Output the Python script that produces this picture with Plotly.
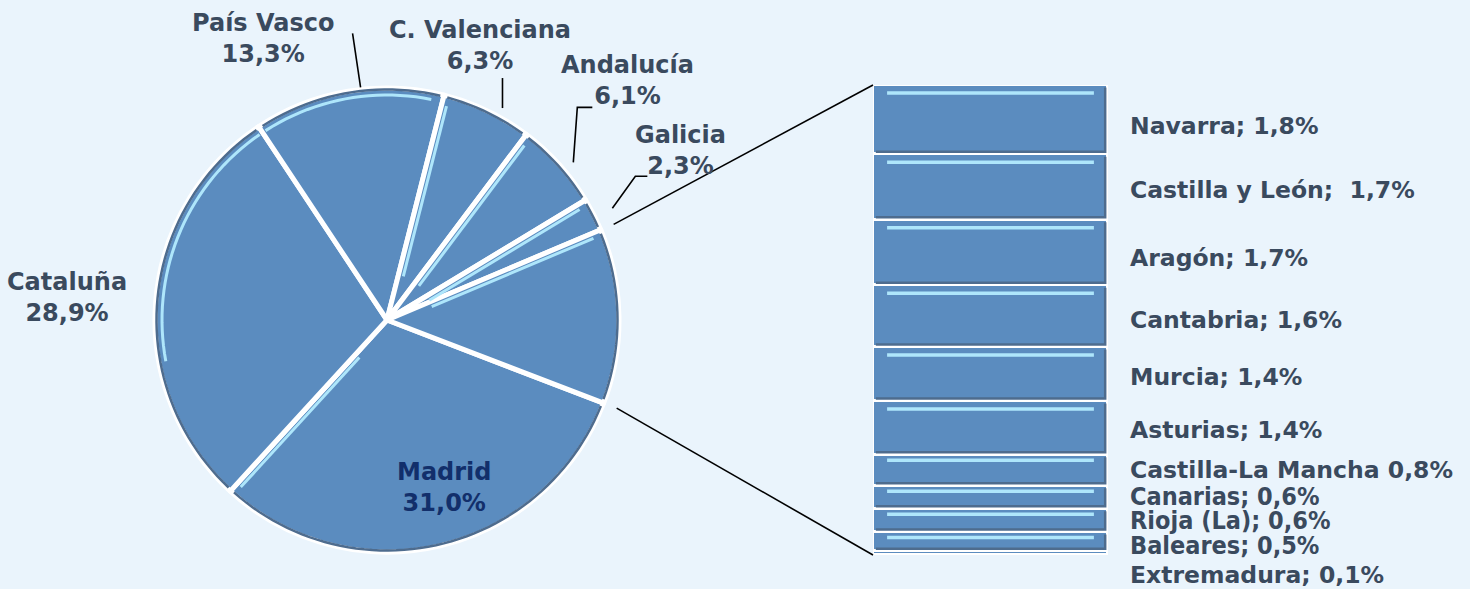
import math
import plotly.graph_objects as go

# ---------------- data ----------------
pie_labels = ["Madrid", "Cataluña", "País Vasco", "C. Valenciana", "Andalucía", "Galicia", "Resto"]
pie_values = [31.0, 28.9, 13.3, 6.3, 6.1, 2.3, 12.2]

bar_labels = ["Navarra", "Castilla y León", "Aragón", "Cantabria", "Murcia", "Asturias",
              "Castilla-La Mancha", "Canarias", "Rioja (La)", "Baleares", "Extremadura"]
bar_values = [1.8, 1.7, 1.7, 1.6, 1.4, 1.4, 0.8, 0.6, 0.6, 0.5, 0.1]
bar_separators = [";", "; ", ";", ";", ";", ";", "", ";", ";", ";", ";"]

# ---------------- style ----------------
W, H = 1470, 589
BG = "#EAF4FC"
FILL = "#5B8CBF"
EDGE = "#4E6C8E"
HILITE = "#AEE6FB"
TXT = "#3A4A5E"
NAVY = "#122F6B"
FONT = "DejaVu Sans"
FONT_C = "DejaVu Sans Condensed, DejaVu Sans"

CX, CY, R = 387, 320, 232      # pie centre / radius in px
ROT = 111                      # start angle of first slice (deg clockwise from 12 o'clock)
BX0, BX1, BY0, BY1 = 873, 1108, 85, 555   # bar box in px (top, bottom)
LBL_X = 1128

def fmt(v):
    return f"{v:.1f}".replace(".", ",") + "%"

def px(x, y):
    return x / W, 1 - y / H

total = sum(pie_values)
angles = []
acc = 0.0
for v in pie_values:
    a0 = ROT + acc / total * 360
    acc += v
    a1 = ROT + acc / total * 360
    angles.append((a0, a1))

def pt(a, r):
    t = math.radians(a)
    return CX + r * math.sin(t), CY - r * math.cos(t)

def path_of(points):
    return "M " + " L ".join(f"{p[0]:.5f},{p[1]:.5f}" for p in points)

fig = go.Figure()

fig.add_trace(go.Pie(
    labels=pie_labels, values=pie_values, sort=False, direction="clockwise",
    rotation=ROT, textinfo="none", hoverinfo="label+percent",
    marker=dict(colors=[FILL] * len(pie_values), line=dict(color="white", width=5)),
    domain=dict(x=[(CX - R) / W, (CX + R) / W], y=[1 - (CY + R) / H, 1 - (CY - R) / H]),
    showlegend=False,
))

# stacked bar (bottom to top)
for lab, v in reversed(list(zip(bar_labels, bar_values))):
    fig.add_trace(go.Bar(
        x=[0], y=[v], width=1, name=lab, showlegend=False,
        marker=dict(color=FILL, line=dict(color="white", width=3)),
        hoverinfo="name+y",
    ))

btotal = sum(bar_values)
annotations = []
shapes = []

# ---- bevel look on pie slices: dark rim + light edges facing the upper-left ----
LX, LY = -1 / math.sqrt(2), -1 / math.sqrt(2)
for a0, a1 in angles:
    d0 = 0.9
    n = max(4, int((a1 - a0) / 2))
    rim = [px(*pt(a0 + d0 + (a1 - a0 - 2 * d0) * k / n, R - 1.5)) for k in range(n + 1)]
    shapes.append(dict(type="path", path=path_of(rim), xref="paper", yref="paper",
                       line=dict(color=EDGE, width=2.5)))
    # light rim where the outer arc faces the light
    lit = []
    for k in range(n + 1):
        a = a0 + d0 + (a1 - a0 - 2 * d0) * k / n
        t = math.radians(a)
        if math.sin(t) * LX - math.cos(t) * LY > 0.55:
            lit.append(px(*pt(a, R - 7)))
        elif len(lit) > 1:
            break
    if len(lit) > 1:
        shapes.append(dict(type="path", path=path_of(lit), xref="paper", yref="paper",
                           line=dict(color=HILITE, width=3)))
    # light radial edges
    for a, sgn in ((a0, -1), (a1, 1)):
        t = math.radians(a)
        nx, ny = sgn * math.cos(t), sgn * math.sin(t)
        if nx * LX + ny * LY > 0.5:
            p_in = [pt(a, rr) for rr in (0.2 * R, R - 10)]
            p_in = [(x - nx * 5, y - ny * 5) for x, y in p_in]
            shapes.append(dict(type="path", path=path_of([px(*q) for q in p_in]),
                               xref="paper", yref="paper",
                               line=dict(color=HILITE, width=3)))

# pie label styling: leader path offsets (px from mid-angle edge point) and text offset
pie_style = {
    "Cataluña": dict(path=None, text=(-86, -4)),
    "País Vasco": dict(path=[(13, -1), (5, -55)], text=(-85, -50)),
    "C. Valenciana": dict(path=[(14, 0), (14, -30)], text=(-8, -63)),
    "Andalucía": dict(path=[(12, 0), (16, -55), (31, -55)], text=(66, -82)),
    "Galicia": dict(path=[(16, -5), (39, -37), (51, -37)], text=(84, -63)),
}

for i, (lab, v) in enumerate(zip(pie_labels, pie_values)):
    a0, a1 = angles[i]
    mid = (a0 + a1) / 2
    txt = f"{lab}<br>{fmt(v)}"
    if lab == "Madrid":
        x, y = pt(mid, 0.74 * R)
        x += 18
        annotations.append(dict(x=px(x, y)[0], y=px(x, y)[1], xref="paper", yref="paper",
                                text=txt, showarrow=False, xanchor="center", yanchor="middle",
                                font=dict(family=FONT, size=24, color=NAVY, weight="bold")))
        continue
    if lab not in pie_style:
        continue
    st = pie_style[lab]
    ex, ey = pt(mid, R + 3)
    if st["path"]:
        pts = [px(ex + dx, ey + dy) for dx, dy in st["path"]]
        shapes.append(dict(type="path", path=path_of(pts), xref="paper", yref="paper",
                           line=dict(color="black", width=1.6)))
    tx, ty = px(ex + st["text"][0], ey + st["text"][1])
    annotations.append(dict(x=tx, y=ty, xref="paper", yref="paper", text=txt,
                            showarrow=False, xanchor="center", yanchor="middle",
                            font=dict(family=FONT, size=24, color=TXT, weight="bold")))

# connector lines pie -> bar
top_a = angles[-1][0]
bot_a = angles[-1][1]
for a, by in ((top_a, BY0), (bot_a, BY1)):
    sx, sy = pt(a, R + 14)
    p0 = px(sx, sy)
    p1 = px(BX0, by)
    shapes.append(dict(type="line", x0=p0[0], y0=p0[1], x1=p1[0], y1=p1[1],
                       xref="paper", yref="paper", line=dict(color="black", width=1.6)))

# bar labels + bevel decoration
bar_shift = [-6, -3, -5, -4, -3, -2, 0, 1, 0, -4, -22]
bar_small = [False, False, False, False, False, False, False, True, True, True, False]
upy = (BY1 - BY0) / btotal  # px per unit
top = btotal
for lab, v, sep, sh, sm in zip(bar_labels, bar_values, bar_separators, bar_shift, bar_small):
    c = top - v / 2
    font = (dict(family=FONT_C, size=25, color=TXT, weight="bold") if sm
            else dict(family=FONT, size=23.5, color=TXT, weight="bold"))
    annotations.append(dict(x=LBL_X / W, y=c, xref="paper", yref="y",
                            text=f"{lab}{sep} {fmt(v)}", showarrow=False,
                            xanchor="left", yanchor="middle", yshift=sh, font=font))
    if v >= 0.3:
        g = 2.5 / upy
        shapes.append(dict(type="path", xref="x", yref="y",
                           path=f"M -0.488,{top - v + g:.4f} L 0.488,{top - v + g:.4f} L 0.488,{top - g:.4f}",
                           line=dict(color=EDGE, width=2.5)))
        hy = top - (8 if v >= 1 else 5.5) / upy
        shapes.append(dict(type="line", xref="x", yref="y", x0=-0.44, x1=0.44, y0=hy, y1=hy,
                           line=dict(color=HILITE, width=3.5)))
    top -= v

fig.update_layout(
    width=W, height=H, margin=dict(l=0, r=0, t=0, b=0),
    paper_bgcolor=BG, plot_bgcolor=BG, barmode="stack", bargap=0,
    xaxis=dict(domain=[BX0 / W, BX1 / W], range=[-0.5, 0.5], visible=False, fixedrange=True),
    yaxis=dict(domain=[1 - BY1 / H, 1 - BY0 / H], range=[0, btotal], visible=False, fixedrange=True),
    annotations=annotations, shapes=shapes,
)

fig.write_html("out.html", config={"displayModeBar": False},
               post_script="document.body.style.margin='0';document.body.style.background='%s';" % BG)
